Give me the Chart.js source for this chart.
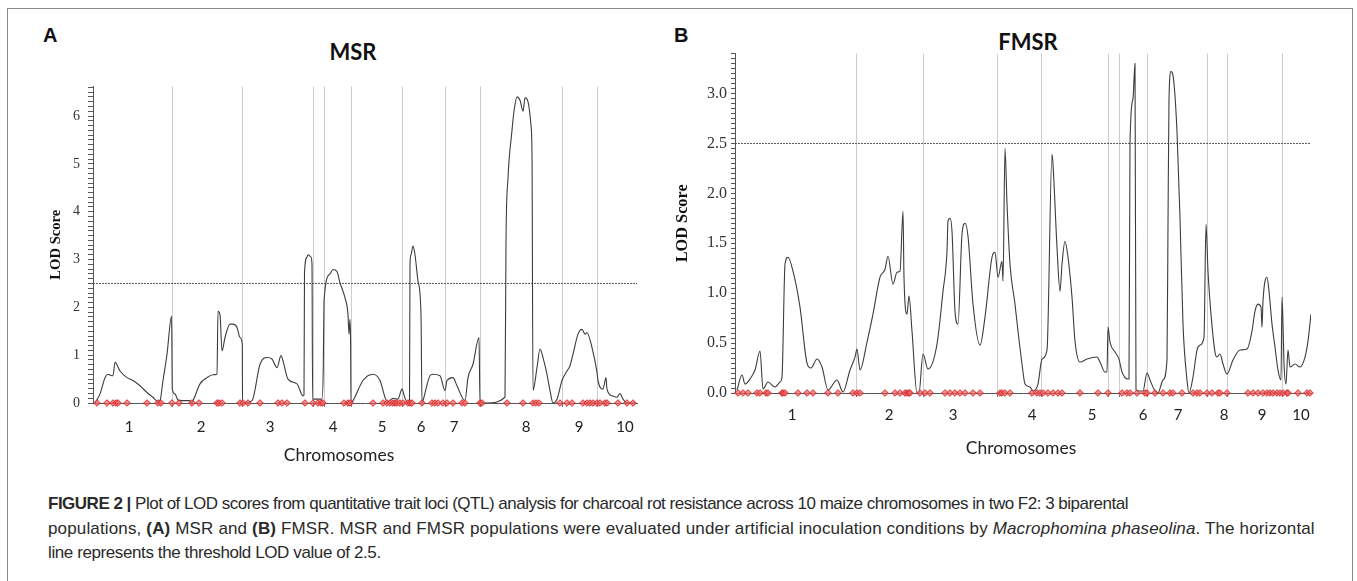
<!DOCTYPE html>
<html>
<head>
<meta charset="utf-8">
<script src="https://cdn.jsdelivr.net/npm/chart.js@4.4.1/dist/chart.umd.min.js"></script>
<style>
body { margin:0; background:#fff; width:1357px; height:581px; overflow:hidden; position:relative; font-family:"Liberation Sans", Arial, sans-serif; }
.frame { position:absolute; left:7px; top:8px; width:1344px; height:600px; border:1px solid #8a8a8a; }
.letter { position:absolute; font:bold 20px/20px "Liberation Sans", Arial, sans-serif; color:#111; }
.title { position:absolute; font:bold 22px/22px Lato, sans-serif; color:#111; transform:translateX(-50%); white-space:nowrap; }
.xtitle { position:absolute; font:17.5px/18px Lato, sans-serif; color:#222; transform:translateX(-50%); white-space:nowrap; }
canvas { position:absolute; }
.cap { position:absolute; left:48px; font-size:17px; line-height:24.5px; color:#2a2a2a; white-space:nowrap; }
</style>
</head>
<body>
<div class="frame"></div>
<div class="letter" style="left:43px; top:25px;">A</div>
<div class="letter" style="left:674px; top:25px;">B</div>
<div class="title" style="left:353px; top:41px;">MSR</div>
<div class="title" style="left:1028px; top:31px;">FMSR</div>
<canvas id="msrChart" width="640" height="400" style="left:20px; top:70px;"></canvas>
<canvas id="fmsrChart" width="680" height="400" style="left:660px; top:40px;"></canvas>
<div class="xtitle" style="left:339px; top:446px;">Chromosomes</div>
<div class="xtitle" style="left:1021px; top:439px;">Chromosomes</div>
<div class="cap" style="top:492px; letter-spacing:-0.5px;"><b>FIGURE 2 |</b> Plot of LOD scores from quantitative trait loci (QTL) analysis for charcoal rot resistance across 10 maize chromosomes in two F2: 3 biparental</div>
<div class="cap" style="top:517px; letter-spacing:0.15px;">populations, <b>(A)</b> MSR and <b>(B)</b> FMSR. MSR and FMSR populations were evaluated under artificial inoculation conditions by <i>Macrophomina phaseolina</i>. The horizontal</div>
<div class="cap" style="top:541px; letter-spacing:-0.4px;">line represents the threshold LOD value of 2.5.</div>
<script>
// 染色體編號與門檻值
const chromLabels = ['1', '2', '3', '4', '5', '6', '7', '8', '9', '10'];
const threshold = 2.5;

// A: MSR 族群 (位置 cM, LOD)
const msrPos = [2, 7, 12, 15, 19, 20, 22, 27, 34, 40, 47, 54, 60, 65,
  67, 70, 74, 78.6, 79.3, 82, 85, 89, 97, 98,
  100, 107, 114, 120, 124, 125, 127, 129, 132, 137, 140, 144, 147, 149.3, 149.5,
  150, 159, 167, 174, 179, 184, 188, 190, 195, 204, 210, 211,
  211.5, 214, 215, 218, 219, 219.6,
  220, 229, 230.3, 231, 237, 240, 244, 247, 252, 255, 256, 257, 257.6, 258,
  260, 270, 280, 287, 292, 294,
  297, 300, 305, 309, 312, 315, 316.5, 317, 318, 320, 322, 325, 328, 329,
  330, 337, 340, 347, 352, 354, 360, 364, 372, 375, 380, 386, 387,
  394, 412, 413, 415, 419, 421, 424, 427, 430, 432, 435, 438, 439, 440,
  444, 447, 450, 454, 457, 460, 464, 469, 474, 477, 480, 485, 489, 492, 494, 499, 504, 505, 510, 513, 514, 519, 524, 527, 530, 534, 542];
const msrLod = [0, 0.19, 0.53, 0.6, 0.57, 0.57, 0.85, 0.67, 0.53, 0.47, 0.36, 0.22, 0.12, 0.03,
  0.05, 0.47, 1.02, 1.82, 0.29, 0.19, 0.06, 0.05, 0.05, 0,
  0.05, 0.4, 0.53, 0.59, 0.6, 1.92, 1.85, 1.09, 1.37, 1.65, 1.65, 1.58, 1.37, 1.23, 0,
  0, 0.05, 0.81, 0.95, 0.92, 0.74, 0.99, 0.88, 0.5, 0.4, 0.15, 0.17,
  2.72, 3.05, 3.1, 3.05, 2.9, 0.08,
  0.08, 0.08, 0.74, 2.13, 2.7, 2.79, 2.75, 2.51, 2.2, 1.85, 1.44, 1.75, 1.23, 0,
  0.05, 0.47, 0.6, 0.47, 0.12, 0.03,
  0.05, 0.1, 0.08, 0.29, 0.1, 0, 0, 2.9, 3.1, 3.28, 3.1, 2.55, 1.85, 0,
  0.05, 0.57, 0.6, 0.57, 0.26, 0.47, 0.53, 0.36, 0.05, 0.53, 0.81, 1.37, 0,
  0, 0.12, 3.38, 4.7, 5.7, 6.1, 6.4, 6.33, 6.1, 6.38, 6.3, 5.8, 5.2, 0.26,
  0.74, 1.13, 0.95, 0.6, 0.26, 0, 0.08, 0.47, 0.67, 0.78, 1.02, 1.44, 1.54, 1.44, 1.47, 1.16, 0.64, 0.47, 0.29, 0.53, 0.29, 0.15, 0.12, 0.2, 0.08, 0, 0];
const msrMarkers = [4, 14, 20, 23, 25, 34, 54, 65, 68, 79, 86, 99, 106, 124, 126, 129, 147, 150, 155, 167,
  185, 189, 194, 212, 220, 225, 228, 230, 251, 255, 257, 280, 290, 294, 297, 300, 302, 304, 307, 310,
  315, 317, 319, 329, 339, 342, 345, 350, 354, 360, 369, 372, 387, 389, 414, 430, 440, 443, 446, 467,
  474, 479, 490, 494, 497, 500, 504, 507, 512, 514, 525, 534, 540];
const msrBounds = [79, 149, 220, 231, 258, 309, 352, 387, 469, 504];
const msrLabelPos = [36, 108, 177, 240, 289, 328, 361, 433, 486, 532];
const msrYLabels = [0, 1, 2, 3, 4, 5, 6];

// B: FMSR 族群
const fmsrPos = [2, 7, 10, 15, 20, 25, 28, 33, 40, 45, 47, 50, 53, 58, 65, 72, 76, 82, 87, 93,
  102, 108, 115, 120, 122, 125, 132, 138, 145, 150, 153, 158, 162, 165, 168, 169, 172, 174, 177, 182, 184,
  188, 193, 202, 208, 212, 213, 215, 217, 220, 223, 227, 230, 233, 238, 245, 250, 257, 260, 263, 267, 268,
  270, 272, 275, 280, 283, 287, 290, 295, 298, 303, 307, 312, 317, 318, 322, 325, 327, 330, 333, 337, 340,
  345, 352, 362, 365, 370, 372, 373, 375, 380, 384, 387, 393, 394, 395, 398, 400, 401, 403, 408, 412, 415,
  420, 423, 428, 432, 433, 434, 436, 438, 442, 445, 448, 452, 454, 458, 462, 465, 469, 471, 473, 476, 480,
  482, 485, 488, 492, 498, 505, 512, 517, 520, 523, 526, 527, 528, 532, 534, 537, 540, 543, 546, 547, 548,
  549, 551, 553, 555, 560, 565, 570, 573, 576];
const fmsrLod = [0.03, 0.18, 0.09, 0.14, 0.23, 0.42, 0.04, 0.11, 0.06, 0.11, 0.16, 1.29, 1.36, 1.22, 0.86, 0.3, 0.25, 0.34, 0.26, 0.03,
  0.13, 0.01, 0.23, 0.36, 0.44, 0.23, 0.51, 0.79, 1.16, 1.24, 1.37, 1.09, 1.21, 1.22, 1.82, 1.16, 0.79, 0.97, 0.62, 0, 0,
  0.39, 0.24, 0.49, 1.02, 1.42, 1.72, 1.75, 1.62, 0.82, 0.69, 1.59, 1.7, 1.57, 0.89, 0.48, 0.76, 1.36, 1.41, 1.16, 1.32, 1.12,
  2.45, 1.9, 1.29, 0.89, 0.62, 0.29, 0.09, 0.06, 0.02, 0.09, 0.34, 0.43, 2.39, 2.29, 1.46, 1.02, 1.29, 1.52, 1.36, 0.96, 0.52,
  0.31, 0.34, 0.36, 0.31, 0.21, 0.21, 0.66, 0.51, 0.41, 0.34, 0.21, 0.14, 0.14, 2.5, 2.95, 3.3, 0.03, 0.02, 0.02, 0.2, 0.13,
  0.02, 0, 0.13, 0.33, 1.69, 2.95, 3.22, 3.18, 2.62, 1.75, 0.69, 0.13, 0, 0.16, 0.43, 0.48, 0.56, 1.69, 1.22, 0.79, 0.41,
  0.36, 0.39, 0.29, 0.19, 0.33, 0.43, 0.44, 0.62, 0.82, 0.89, 0.86, 0.66, 0.92, 1.16, 1.02, 0.69, 0.46, 0.23, 0.13, 0.96, 0.69,
  0.3, 0.09, 0.43, 0.26, 0.29, 0.26, 0.36, 0.52, 0.79];
const fmsrMarkers = [3, 8, 13, 22, 25, 31, 33, 47, 48, 50, 63, 72, 78, 93, 103, 118, 122, 125, 150, 160,
  165, 170, 172, 174, 175, 185, 190, 195, 210, 215, 220, 225, 230, 238, 245, 265, 267, 270, 275, 297,
  302, 305, 308, 313, 318, 323, 327, 345, 363, 373, 387, 392, 395, 402, 410, 412, 420, 428, 435, 438,
  447, 458, 462, 465, 472, 477, 483, 485, 492, 513, 518, 523, 528, 532, 535, 538, 542, 545, 548, 552,
  553, 563, 572, 575];
const fmsrBounds = [121, 188, 262, 306, 373, 384, 412, 472, 492, 547];
const fmsrLabelPos = [57, 154, 218, 297, 357, 408, 443, 489, 527, 566];
const fmsrYLabels = [0, 0.5, 1, 1.5, 2, 2.5, 3];

// 繪製單一面板
function drawPanel(id, opt) {
  const ctx = document.getElementById(id).getContext('2d');
  const lodData = opt.pos.map((x, i) => ({ x: x, y: opt.lod[i] }));
  const markData = opt.markers.map(x => ({ x: x, y: 0 }));
  const thrData = [{ x: 0, y: threshold }, { x: opt.xMax, y: threshold }];

  return new Chart(ctx, {
    type: 'line',
    data: {
      datasets: [
        { data: markData, showLine: false, pointStyle: 'rectRot', pointRadius: 3.3,
          pointBackgroundColor: 'rgba(236,96,96,0.7)', pointBorderColor: '#d92b2b', pointBorderWidth: 1,
          clip: false, order: 0 },
        { data: lodData, borderColor: '#3c3c3c', borderWidth: 1.1, pointRadius: 0,
          cubicInterpolationMode: 'monotone', order: 1 },
        { data: thrData, borderColor: '#555', borderWidth: 1, borderDash: [2, 1], pointRadius: 0, order: 2 }
      ]
    },
    options: {
      responsive: false,
      animation: false,
      devicePixelRatio: 1,
      layout: { padding: { top: opt.padTop, right: opt.padRight, left: 0, bottom: 0 } },
      plugins: { legend: { display: false }, tooltip: { enabled: false } },
      scales: {
        x: {
          type: 'linear', min: 0, max: opt.xMax, position: 'bottom',
          afterBuildTicks: s => { s.ticks = opt.bounds.map(v => ({ value: v })); },
          afterFit: s => { s.height = 4; },
          ticks: { display: false },
          grid: { color: '#cdcdcd', lineWidth: 1, drawTicks: true, tickLength: 4, tickColor: '#777' },
          border: { color: '#555', width: 1 }
        },
        xl: {
          type: 'linear', min: 0, max: opt.xMax, position: 'bottom',
          afterBuildTicks: s => { s.ticks = opt.labelPos.map(v => ({ value: v })); },
          afterFit: s => { s.height = opt.xlHeight; },
          ticks: { autoSkip: false, maxRotation: 0, padding: opt.xlPad, color: '#222',
                   font: { family: 'Lato', size: 15 }, callback: (v, i) => chromLabels[i] },
          grid: { display: false, drawTicks: false },
          border: { display: false }
        },
        y: {
          type: 'linear', min: 0, max: opt.yMax,
          afterBuildTicks: s => {
            const t = [];
            for (let k = 0; k * opt.yStep <= opt.yMax + 1e-9; k++) t.push({ value: +(k * opt.yStep).toFixed(3) });
            s.ticks = t;
          },
          afterFit: s => { s.width = opt.yWidth; },
          ticks: {
            autoSkip: false, padding: opt.yPad, color: '#333',
            font: { family: 'Liberation Serif', size: opt.yFont },
            callback: v => {
              const lab = opt.yLabels.find(l => Math.abs(l - v) < 1e-6);
              return lab === undefined ? '' : lab.toFixed(opt.yDec);
            }
          },
          grid: { drawOnChartArea: false, drawTicks: true, tickLength: opt.yTick, tickColor: '#555' },
          border: { color: '#555', width: 1 },
          title: { display: true, text: 'LOD Score', color: '#111',
                   font: { family: 'Liberation Serif', size: opt.yTitleFont, weight: 'bold' },
                   padding: { top: opt.yTitlePad, bottom: 0 } }
        }
      }
    }
  });
}

drawPanel('msrChart', {
  pos: msrPos, lod: msrLod, markers: msrMarkers, bounds: msrBounds, labelPos: msrLabelPos,
  yLabels: msrYLabels, yDec: 0, yStep: 0.1, yMax: 6.62, xMax: 544, yFont: 14,
  padTop: 13, padRight: 23, yWidth: 73, yPad: 8, yTick: 5,
  yTitleFont: 14.6, yTitlePad: 27.2, xlHeight: 63, xlPad: 11.4
});

drawPanel('fmsrChart', {
  pos: fmsrPos, lod: fmsrLod, markers: fmsrMarkers, bounds: fmsrBounds, labelPos: fmsrLabelPos,
  yLabels: fmsrYLabels, yDec: 1, yStep: 0.05, yMax: 3.4, xMax: 576, yFont: 16,
  padTop: 12, padRight: 29, yWidth: 75, yPad: 4, yTick: 4,
  yTitleFont: 16.3, yTitlePad: 13.2, xlHeight: 43, xlPad: 9.4
});
</script>
</body>
</html>
